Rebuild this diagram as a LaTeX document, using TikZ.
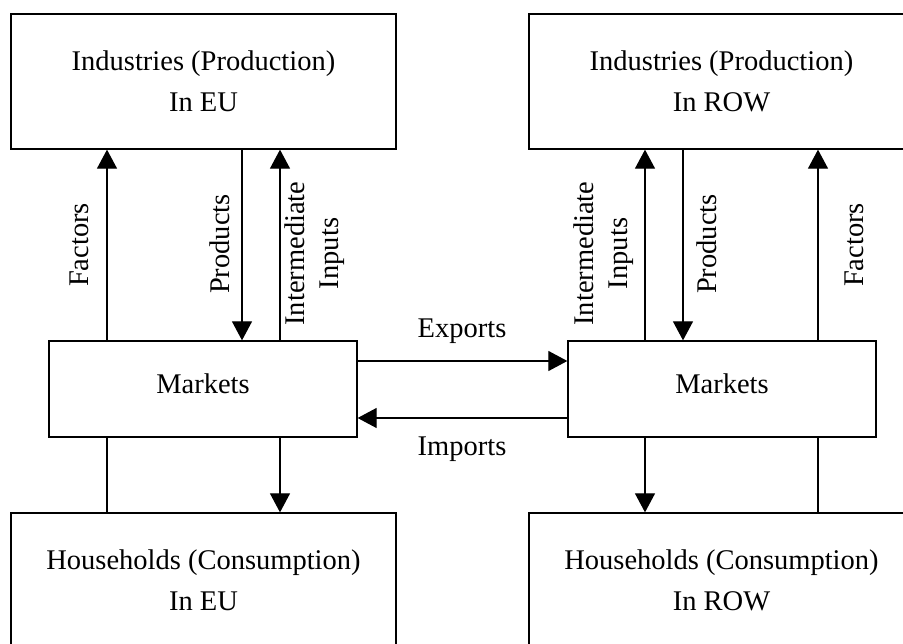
\documentclass[tikz,border=0pt]{standalone}
\usepackage{fontspec}
\setmainfont{Liberation Serif}
\usetikzlibrary{arrows.meta}
\begin{document}
\begin{tikzpicture}[x=1pt,y=-1pt,
  box/.style={draw, line width=1.3pt, minimum width=385pt, minimum height=135pt, inner sep=0pt, align=center, font=\fontsize{28.5}{41}\selectfont},
  mkt/.style={draw, line width=1.3pt, minimum width=308pt, minimum height=96pt, inner sep=0pt, text depth=10pt, font=\fontsize{28.5}{33}\selectfont},
  lbl/.style={font=\fontsize{28.5}{34}\selectfont, inner sep=0pt, align=center},
  vlbl/.style={lbl, rotate=90},
  arr/.style={line width=1.2pt, -{Triangle[length=19pt,width=20pt]}},
  ln/.style={line width=1.2pt}]
\useasboundingbox (0,0) rectangle (903,644);
\clip (0,0) rectangle (903,644);
% boxes
\node[box] (TL) at (203.5,81.5) {Industries (Production)\\In EU};
\node[box] (TR) at (721.5,81.5) {Industries (Production)\\In ROW};
\node[box] (BL) at (203.5,580.5) {Households (Consumption)\\In EU};
\node[box] (BR) at (721.5,580.5) {Households (Consumption)\\In ROW};
\node[mkt] (ML) at (203,389) {Markets};
\node[mkt] (MR) at (722,389) {Markets};
% x positions of vertical connectors
\coordinate (a1) at (107,0);
\coordinate (a2) at (242,0);
\coordinate (a3) at (280,0);
\coordinate (b1) at (645,0);
\coordinate (b2) at (683,0);
\coordinate (b3) at (818,0);
\coordinate (ey) at (0,361);
\coordinate (iy) at (0,418);
% left side
\draw[arr] (ML.north -| a1) -- (TL.south -| a1);
\draw[arr] (TL.south -| a2) -- (ML.north -| a2);
\draw[arr] (ML.north -| a3) -- (TL.south -| a3);
\draw[ln] (BL.north -| a1) -- (ML.south -| a1);
\draw[arr] (ML.south -| a3) -- (BL.north -| a3);
% right side
\draw[arr] (MR.north -| b1) -- (TR.south -| b1);
\draw[arr] (TR.south -| b2) -- (MR.north -| b2);
\draw[arr] (MR.north -| b3) -- (TR.south -| b3);
\draw[arr] (MR.south -| b1) -- (BR.north -| b1);
\draw[ln] (BR.north -| b3) -- (MR.south -| b3);
% trade
\draw[arr] (ML.east |- ey) -- (MR.west |- ey);
\draw[arr] (MR.west |- iy) -- (ML.east |- iy);
% labels
\node[lbl, anchor=base] (ex) at (462,338) {Exports};
\node[lbl, anchor=base] (im) at (462,455) {Imports};
\node[vlbl] (fl) at (79,245) {Factors};
\node[vlbl] (pl) at (220,244) {Products};
\node[vlbl] (il) at (314.5,253.5) {Intermediate\\Inputs};
\node[vlbl] (ir) at (603.5,253.5) {Intermediate\\Inputs};
\node[vlbl] (pr) at (707,244) {Products};
\node[vlbl] (fr) at (854,245) {Factors};
\end{tikzpicture}
\end{document}
